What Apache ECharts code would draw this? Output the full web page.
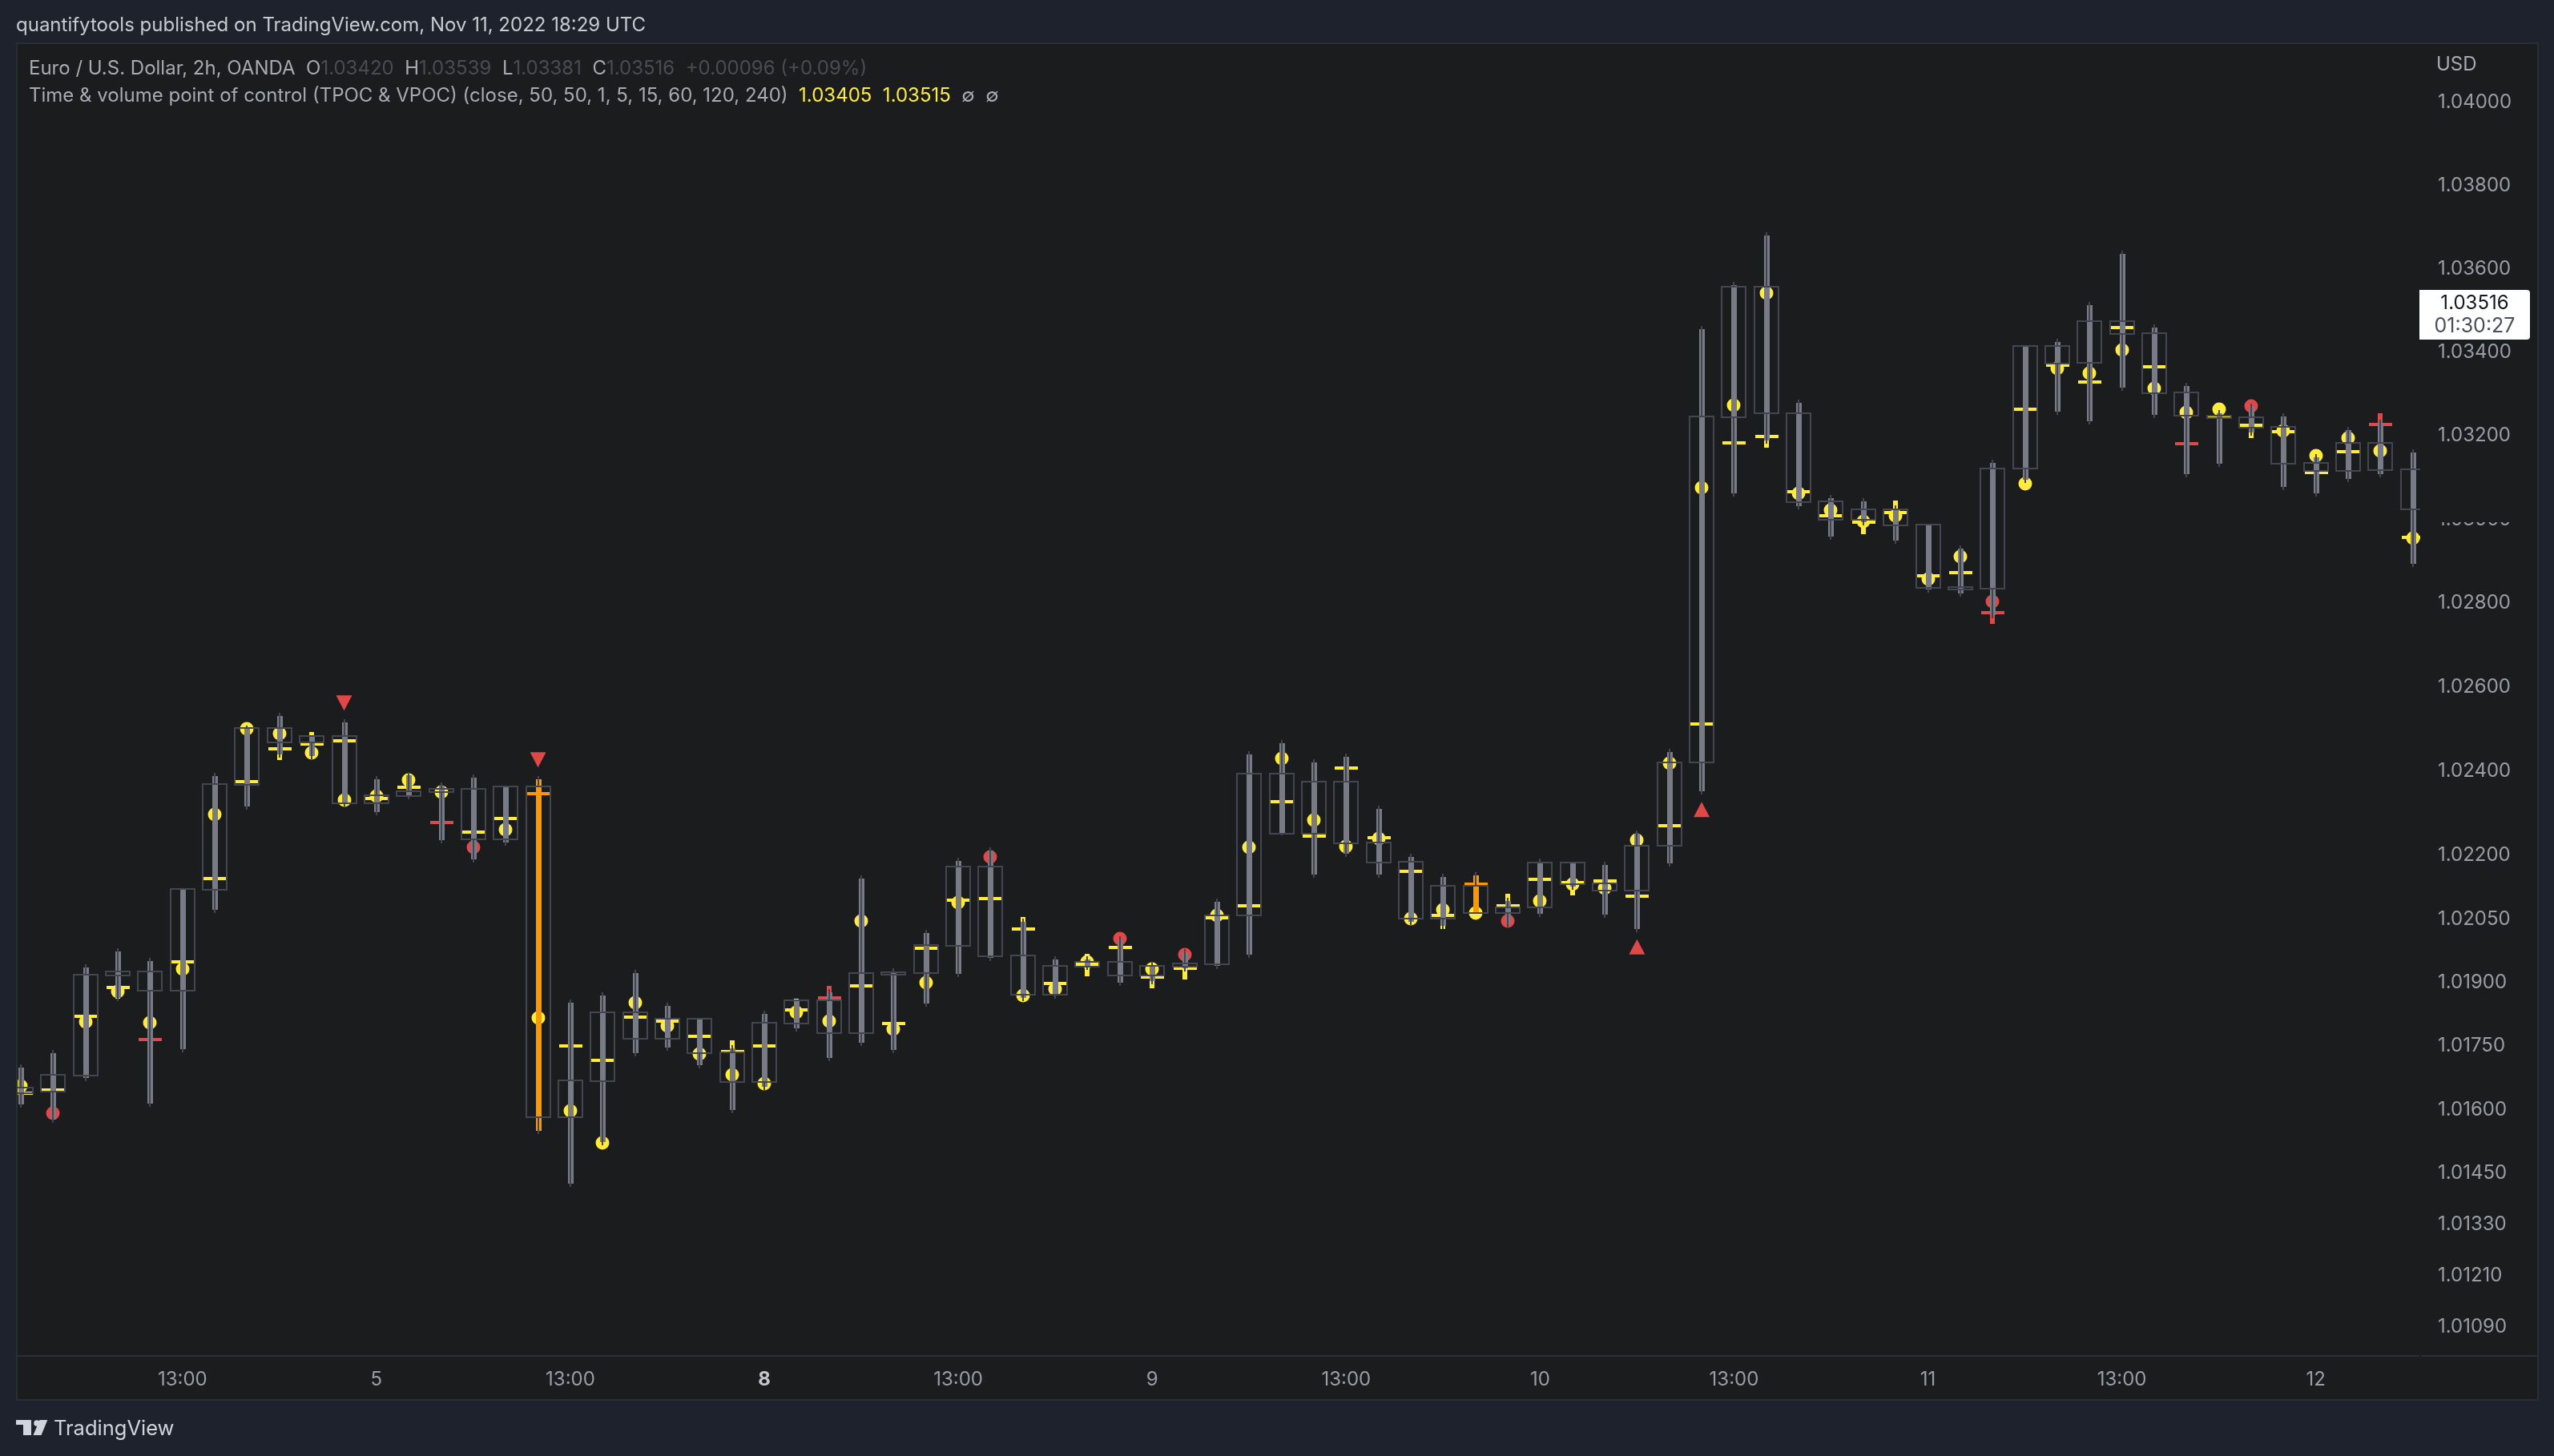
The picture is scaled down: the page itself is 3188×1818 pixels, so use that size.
<!DOCTYPE html>
<html><head><meta charset="utf-8">
<style>html,body{margin:0;padding:0;background:#1e222d}#c{width:3188px;height:1818px}</style>
<script src="https://cdn.jsdelivr.net/npm/echarts@6/dist/echarts.min.js"></script>
</head><body><div id="c"></div>
<script>
const highs=[1.01707,1.01740,1.01943,1.01980,1.01957,1.02122,1.02396,1.02509,1.02539,1.02476,
1.02524,1.02388,1.02397,1.02373,1.02392,1.02364,1.02388,1.01860,1.01877,1.01930,
1.01852,1.01815,1.01752,1.01833,1.01858,1.01884,1.02153,1.01933,1.02024,1.02195,
1.02219,1.02050,1.01961,1.01962,1.02009,1.01947,1.01978,1.02098,1.02447,1.02474,
1.02428,1.02441,1.02318,1.02205,1.02156,1.02161,1.02099,1.02193,1.02186,1.02186,
1.02260,1.02454,1.03463,1.03569,1.03687,1.03285,1.03058,1.03051,1.03034,1.02987,
1.02937,1.03142,1.03416,1.03431,1.03521,1.03643,1.03466,1.03327,1.03261,1.03277,
1.03254,1.03156,1.03221,1.03238,1.03167];
const lows=[1.01604,1.01568,1.01666,1.01856,1.01606,1.01734,1.02063,1.02308,1.02432,1.02428,
1.02316,1.02296,1.02334,1.02228,1.02184,1.02224,1.01543,1.01417,1.01516,1.01726,
1.01738,1.01697,1.01592,1.01645,1.01784,1.01714,1.01749,1.01733,1.01842,1.01912,
1.01950,1.01856,1.01862,1.01929,1.01891,1.01896,1.01926,1.01931,1.01957,1.02248,
1.02148,1.02196,1.02148,1.02036,1.02026,1.02061,1.02029,1.02055,1.02118,1.02053,
1.02019,1.02173,1.02345,1.03055,1.03180,1.03024,1.02950,1.02985,1.02941,1.02824,
1.02816,1.02764,1.03086,1.03250,1.03226,1.03307,1.03242,1.03100,1.03124,1.03200,
1.03070,1.03054,1.03089,1.03101,1.02885];
const bodyTops=[1.01649,1.01680,1.01916,1.01924,1.01924,1.02118,1.02367,1.02500,1.02500,1.02481,
1.02481,1.02341,1.02350,1.02357,1.02357,1.02361,1.02361,1.01666,1.01828,1.01828,
1.01813,1.01813,1.01733,1.01802,1.01856,1.01856,1.01919,1.01921,1.01986,1.02171,
1.02171,1.01961,1.01936,1.01947,1.01947,1.01936,1.01942,1.02057,1.02393,1.02393,
1.02374,1.02374,1.02228,1.02184,1.02127,1.02127,1.02076,1.02181,1.02181,1.02132,
1.02222,1.02418,1.03243,1.03555,1.03555,1.03252,1.03041,1.03022,1.03022,1.02985,
1.02837,1.03120,1.03413,1.03413,1.03473,1.03472,1.03444,1.03301,1.03246,1.03241,
1.03218,1.03132,1.03180,1.03180,1.03117];
const bodyBottoms=[1.01639,1.01643,1.01680,1.01916,1.01881,1.01881,1.02119,1.02368,1.02468,1.02468,
1.02324,1.02324,1.02341,1.02350,1.02238,1.02238,1.01582,1.01582,1.01667,1.01767,
1.01767,1.01733,1.01665,1.01665,1.01803,1.01779,1.01779,1.01919,1.01921,1.01986,
1.01962,1.01870,1.01870,1.01937,1.01917,1.01917,1.01937,1.01943,1.02058,1.02251,
1.02251,1.02229,1.02184,1.02050,1.02050,1.02064,1.02063,1.02077,1.02132,1.02117,
1.02117,1.02223,1.02420,1.03244,1.03254,1.03041,1.02999,1.02998,1.02986,1.02837,
1.02835,1.02835,1.03121,1.03373,1.03374,1.03444,1.03302,1.03247,1.03242,1.03219,
1.03133,1.03115,1.03115,1.03117,1.03024];
const tpoc=[1.01639,1.01646,1.01819,1.01887,1.01764,1.01949,1.02146,1.02376,1.02454,1.02465,
1.02472,1.02336,1.02362,1.02279,1.02256,1.02288,1.02347,1.01749,1.01715,1.01817,
1.01809,1.01773,1.01737,1.01749,1.01834,1.01864,1.01891,1.01802,1.01980,1.02095,
1.02098,1.02026,1.01898,1.01943,1.01982,1.01913,1.01933,1.02053,1.02080,1.02327,
1.02246,1.02407,1.02243,1.02163,1.02058,1.02132,1.02081,1.02144,1.02136,1.02140,
1.02104,1.02271,1.02512,1.03183,1.03198,1.03065,1.03009,1.02992,1.03016,1.02864,
1.02872,1.02777,1.03263,1.03368,1.03328,1.03458,1.03365,1.03180,1.03244,1.03224,
1.03210,1.03112,1.03161,1.03226,1.02956];
const vpoc=[1.01655,1.01592,1.01807,1.01878,1.01805,1.01931,1.02297,1.02501,1.02490,1.02444,
1.02331,1.02341,1.02379,1.02350,1.02219,1.02262,1.01816,1.01597,1.01521,1.01852,
1.01796,1.01731,1.01682,1.01661,1.01829,1.01809,1.02044,1.01790,1.01899,1.02088,
1.02197,1.01868,1.01884,1.01948,1.02003,1.01932,1.01965,1.02058,1.02220,1.02431,
1.02284,1.02221,1.02241,1.02051,1.02072,1.02064,1.02045,1.02093,1.02132,1.02122,
1.02237,1.02418,1.03076,1.03273,1.03542,1.03061,1.03022,1.02994,1.03008,1.02857,
1.02911,1.02803,1.03085,1.03360,1.03349,1.03404,1.03313,1.03256,1.03263,1.03271,
1.03211,1.03152,1.03194,1.03163,1.02955];
const redTpoc=[4,13,25,61,67,73];
const redVpoc=[1,14,30,34,36,46,61,69];
const orangeBars=[16,45];
const tailHighs=[[9,1.02493],[22,1.01763],[24,1.01862],[25,1.01892],[31,1.02055],[33,1.01968],[46,1.02110],[58,1.03044],[73,1.03254]];
const tailLows=[[3,1.01862],[8,1.02426],[33,1.01914],[35,1.01885],[36,1.01907],[44,1.02026],[48,1.02106],[54,1.03171],[57,1.02964],[61,1.02750],[69,1.03194]];
const sellMarks=[[10,1.02562],[16,1.02427]];
const buyMarks=[[50,1.01984],[52,1.02309]];
const priceTicks=[1.04,1.038,1.036,1.034,1.032,1.03,1.028,1.026,1.024,1.022,1.0205,1.019,1.0175,1.016,1.0145,1.0133,1.0121,1.0109];
const timeTickBars=[5,11,17,23,29,35,41,47,53,59,65,71];
const timeTickLabels=['13:00','5','13:00','8','13:00','9','13:00','10','13:00','11','13:00','12'];
const boldTimeLabels=['8'];

const FONT='Inter, "Noto Sans", sans-serif';
const C={page:'#1e222d',panel:'#1b1c1e',border:'#2a2e39',wick:'#787b86',line:'#434651',yellow:'#ffeb3b',red:'#e04848',orange:'#ff9800',label:'#9a9da6'};
const bars=highs.map((h,i)=>[i,bodyTops[i],bodyBottoms[i],lows[i],h,tpoc[i],vpoc[i]]);
function tail(list,i){const f=list.find(t=>t[0]===i);return f?f[1]:null;}

function renderBar(params,api){
  const i=api.value(0);
  const orange=orangeBars.includes(i);
  const x=Math.round(api.coord([i,1.02])[0]);
  const Y=v=>Math.round(api.coord([i,v])[1]);
  const yT=Y(api.value(1)),yB=Y(api.value(2)),yL=Y(api.value(3)),yH=Y(api.value(4)),yD=Y(api.value(5)),yO=Y(api.value(6));
  const dashCol=orange?C.orange:(redTpoc.includes(i)?C.red:C.yellow);
  const dotCol=redVpoc.includes(i)?C.red:C.yellow;
  const wickCol=orange?C.orange:C.wick;
  const kids=[];
  const rect=(x0,y0,w,h,fill)=>kids.push({type:'rect',shape:{x:x0,y:y0,width:w,height:h},style:{fill:fill},silent:true});
  const th=tail(tailHighs,i),tl=tail(tailLows,i);
  if(th!==null){const t=Y(th);rect(x-3,t,6,yH-t+8,dashCol);}
  if(tl!==null){const t=Y(tl);rect(x-3,yL-8,6,t-yL+8,dashCol);}
  kids.push({type:'circle',shape:{cx:x,cy:yO,r:8.5},style:{fill:dotCol},silent:true});
  rect(x-14,yD-2,29,4,dashCol);
  // wick: broad bar with a thin darker core
  rect(x-3,yH+4,7,Math.max(0,yL-yH-8),wickCol);
  rect(x-1,yH,2,yL-yH,C.line);
  // solid body core, then hollow outline
  rect(x-3,yT,7,Math.max(1,yB-yT),wickCol);
  const bh=Math.max(2,yB-yT);
  kids.push({type:'rect',shape:{x:x-15,y:yT-1,width:30,height:bh+1},style:{fill:'none',stroke:C.line,lineWidth:2},silent:true});
  return {type:'group',children:kids};
}

const legendRich={
  a:{fill:'#a8aab2',fontSize:24,fontFamily:FONT},
  b:{fill:'#4a4c55',fontSize:24,fontFamily:FONT},
  y:{fill:C.yellow,fontSize:24,fontFamily:FONT}
};
const poly=(pts,fill)=>({type:'polygon',shape:{points:pts},style:{fill:fill},silent:true,z:5});
const text=(x,y,t,fill,size,extra)=>({type:'text',x:x,y:y,silent:true,z:50,style:Object.assign({text:t,fill:fill,fontSize:size,fontFamily:FONT,verticalAlign:'middle'},extra||{})});

const chart=echarts.init(document.getElementById('c'),null,{renderer:'canvas'});
chart.setOption({
  animation:false,
  backgroundColor:C.page,
  grid:{left:22,top:55,width:2999,height:1637,containLabel:false},
  xAxis:{type:'value',min:-0.1,max:74.23,
    axisLine:{show:false},axisTick:{show:false},splitLine:{show:false},
    axisLabel:{customValues:timeTickBars,margin:19,color:C.label,fontSize:24,fontFamily:FONT,
      formatter:v=>{const s=timeTickLabels[timeTickBars.indexOf(v)];return boldTimeLabels.includes(s)?'{b|'+s+'}':s;},
      rich:{b:{fontWeight:'bold',color:'#c4c6cc',fontSize:24,fontFamily:FONT}}}},
  yAxis:{type:'log',logBase:10,min:1.01023,max:1.04141,position:'right',
    axisLine:{show:false},axisTick:{show:false},splitLine:{show:false},minorTick:{show:false},minorSplitLine:{show:false},
    axisLabel:{customValues:priceTicks,margin:22,color:C.label,fontSize:24,fontFamily:FONT,align:'left',padding:[3,0,0,0],
      formatter:v=>(+v).toFixed(5)}},
  graphic:{elements:[
    {type:'rect',shape:{x:21,y:54,width:3147,height:1694},style:{fill:C.panel,stroke:C.border,lineWidth:2},silent:true,z:-10},
    {type:'rect',shape:{x:21,y:1692,width:2999,height:2},style:{fill:C.border},silent:true,z:5},
    {type:'rect',shape:{x:3022,y:1692,width:146,height:2},style:{fill:C.border},silent:true,z:5},
    // partial mask over the price label that the source image obscures
    {type:'rect',shape:{x:3030,y:628,width:125,height:24},style:{fill:C.panel},silent:true,z:40},
    // last price tag
    {type:'rect',shape:{x:3020,y:362,width:138,height:62,r:[0,4,4,0]},style:{fill:'#ffffff'},silent:true,z:45},
    text(3089,379,'1.03516','#131722',24,{align:'center'}),
    text(3089,407,'01:30:27','#4a4e5a',25,{align:'center'}),
    text(3041,81,'USD','#a8aab2',24),
    text(20,32,'quantifytools published on TradingView.com, Nov 11, 2022 18:29 UTC','#c8cad0',24),
    {type:'text',x:36,y:86,silent:true,z:50,style:{text:'{a|Euro / U.S. Dollar, 2h, OANDA  O}{b|1.03420}{a|  H}{b|1.03539}{a|  L}{b|1.03381}{a|  C}{b|1.03516}{b|  +0.00096 (+0.09%)}',rich:legendRich,verticalAlign:'middle',fontFamily:FONT}},
    {type:'text',x:36,y:120,silent:true,z:50,style:{text:'{a|Time & volume point of control (TPOC & VPOC) (close, 50, 50, 1, 5, 15, 60, 120, 240)  }{y|1.03405  1.03515}{a|  ∅  ∅}',rich:legendRich,verticalAlign:'middle',fontFamily:FONT}},
    poly([[20,1773],[39,1773],[39,1792],[29,1792],[29,1779],[20,1779]],'#d1d4dc'),
    {type:'circle',shape:{cx:46,cy:1777,r:3.8},style:{fill:'#d1d4dc'},silent:true,z:5},
    poly([[49.5,1773],[59.3,1773],[51.5,1792],[41.5,1792]],'#d1d4dc'),
    text(67,1784,'TradingView','#d1d4dc',25.5)
  ]},
  series:[
    {type:'custom',name:'bars',data:bars,renderItem:renderBar,clip:true,silent:true,z:3,
      encode:{x:0,y:[1,2,3,4]},dimensions:['i','top','bottom','low','high','tpoc','vpoc']},
    {type:'scatter',name:'sell',data:sellMarks,symbol:'triangle',symbolRotate:180,symbolSize:[20,19],itemStyle:{color:C.red,opacity:1},silent:true,z:4},
    {type:'scatter',name:'buy',data:buyMarks,symbol:'triangle',symbolSize:[20,19],itemStyle:{color:C.red,opacity:1},silent:true,z:4}
  ]
});
</script></body></html>
